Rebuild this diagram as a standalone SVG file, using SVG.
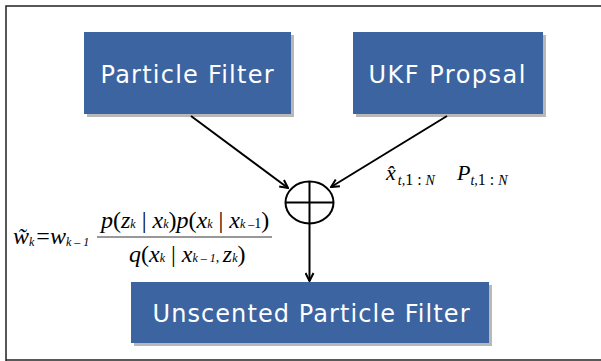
<svg xmlns="http://www.w3.org/2000/svg" width="601" height="361" viewBox="0 0 601 361">
<style>
.box{fill:#3b64a1;}
.shadow{fill:#b8b8b8;}
.lbl{font-family:"DejaVu Sans",Verdana,sans-serif;font-size:24px;fill:#ffffff;text-anchor:middle;}
.m{font-family:"Liberation Serif","Times New Roman",serif;font-style:italic;fill:#000;}
.r{font-family:"Liberation Serif","Times New Roman",serif;font-style:normal;fill:#000;}
.conn{stroke:#000;stroke-width:2;fill:none;}
</style>
<defs>
<marker id="ah" markerWidth="10" markerHeight="10" refX="9" refY="5" orient="auto" markerUnits="userSpaceOnUse">
<path d="M1,1 L9,5 L1,9" fill="none" stroke="#000" stroke-width="2"/>
</marker>
</defs>
<rect x="0" y="0" width="601" height="361" fill="#fff"/>
<path d="M6,361 V6 H601" fill="none" stroke="#222" stroke-width="1.5"/>
<line x1="6" y1="360" x2="601" y2="360" stroke="#222" stroke-width="1.5"/>
<g id="particle-filter">
<rect class="shadow" x="87" y="35" width="207" height="82"/>
<rect class="box" x="84" y="32" width="207" height="82"/>
<text class="lbl" x="187" y="83" textLength="173" lengthAdjust="spacing">Particle Filter</text>
</g>
<g id="ukf-proposal">
<rect class="shadow" x="356" y="35" width="190" height="82"/>
<rect class="box" x="353" y="32" width="190" height="82"/>
<text class="lbl" x="447" y="83" textLength="157" lengthAdjust="spacing">UKF Propsal</text>
</g>
<g id="sum">
<ellipse cx="309.5" cy="202.5" rx="24" ry="21" fill="#fff" stroke="#000" stroke-width="2"/>
<line x1="309.5" y1="181.5" x2="309.5" y2="223.5" stroke="#000" stroke-width="2"/>
<line x1="285.5" y1="202.5" x2="333.5" y2="202.5" stroke="#000" stroke-width="2"/>
</g>
<g id="unscented-particle-filter">
<rect class="shadow" x="134" y="285" width="358" height="61"/>
<rect class="box" x="131" y="282" width="358" height="61"/>
<text class="lbl" x="311" y="322" textLength="317" lengthAdjust="spacing">Unscented Particle Filter</text>
</g>
<g id="connectors">
<line class="conn" x1="191" y1="116" x2="288" y2="188" marker-end="url(#ah)"/>
<line class="conn" x1="447" y1="116" x2="331" y2="187" marker-end="url(#ah)"/>
<line class="conn" x1="309.5" y1="224" x2="309.5" y2="281" marker-end="url(#ah)"/>
</g>
<g id="formula-weight">
<text class="m" x="13" y="244" font-size="24">w&#771;<tspan font-size="12" dy="2">k</tspan><tspan class="r" dy="-2" dx="2">=</tspan>w<tspan font-size="12" dy="2">k – 1</tspan></text>
<text class="m" x="101" y="228" font-size="24">p<tspan class="r">(</tspan>z<tspan font-size="12">k</tspan><tspan class="r"> | </tspan>x<tspan font-size="12">k</tspan><tspan class="r">)</tspan>p<tspan class="r">(</tspan>x<tspan font-size="12">k</tspan><tspan class="r"> | </tspan>x<tspan font-size="12">k –</tspan><tspan class="r" font-size="14">1</tspan><tspan class="r">)</tspan></text>
<line x1="97" y1="237" x2="272" y2="237" stroke="#333" stroke-width="1"/>
<text class="m" x="129" y="262" font-size="24">q<tspan class="r">(</tspan>x<tspan font-size="12">k</tspan><tspan class="r"> | </tspan>x<tspan font-size="12">k – 1</tspan><tspan class="r" font-size="14">, </tspan>z<tspan font-size="12">k</tspan><tspan class="r">)</tspan></text>
</g>
<g id="formula-ukf">
<text class="m" x="386" y="180" font-size="22">x&#770;<tspan font-size="14" dy="5" dx="2">t,</tspan><tspan class="r" font-size="16">1 : </tspan><tspan font-size="14">N</tspan><tspan dy="-5" dx="22">P</tspan><tspan font-size="14" dy="5">t,</tspan><tspan class="r" font-size="16">1 : </tspan><tspan font-size="14">N</tspan></text>
</g>
</svg>
